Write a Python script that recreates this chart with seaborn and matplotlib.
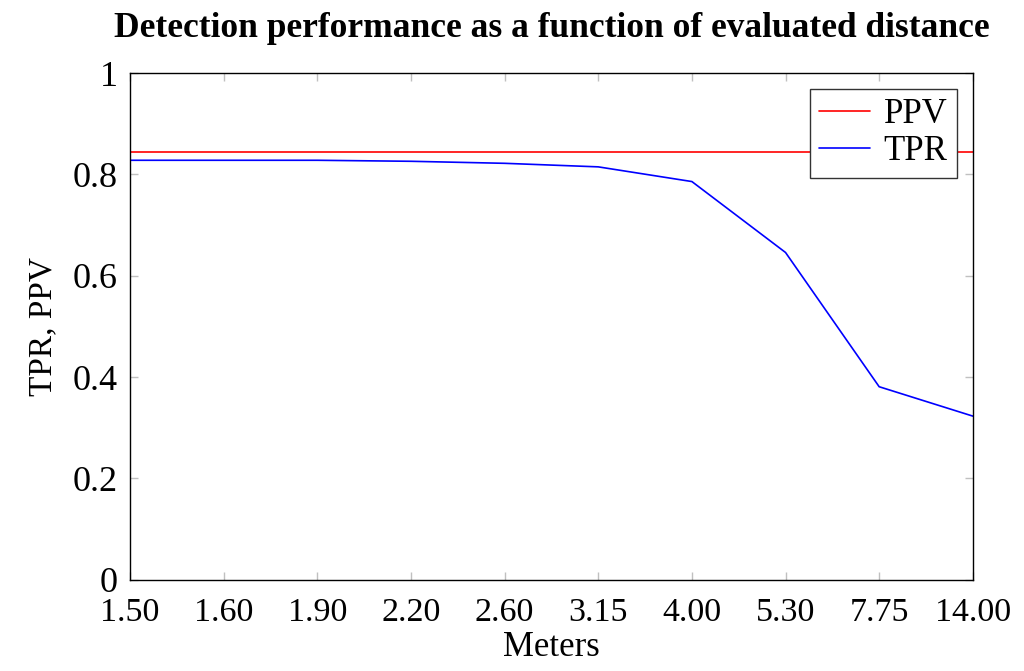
import numpy as np
import pandas as pd
import matplotlib
matplotlib.use("Agg")
import matplotlib.pyplot as plt
import seaborn as sns

# Data
meters = ["1.50", "1.60", "1.90", "2.20", "2.60", "3.15", "4.00", "5.30", "7.75", "14.00"]
tpr = [0.828, 0.828, 0.828, 0.826, 0.822, 0.815, 0.786, 0.646, 0.381, 0.323]
ppv = [0.844, 0.844, 0.844, 0.844, 0.844, 0.844, 0.844, 0.844, 0.844, 0.844]

sns.set_style("ticks")
plt.rcParams['font.family'] = ['Liberation Serif', 'DejaVu Serif']
plt.rcParams['text.color'] = 'black'
plt.rcParams['axes.labelcolor'] = 'black'
plt.rcParams['xtick.labelcolor'] = 'black'
plt.rcParams['ytick.labelcolor'] = 'black'

pos = np.arange(len(meters))
df = pd.DataFrame({"pos": np.concatenate([pos, pos]),
                   "value": ppv + tpr,
                   "series": ["PPV"] * len(ppv) + ["TPR"] * len(tpr)})

fig, ax = plt.subplots(figsize=(10.24, 6.71), dpi=100)
fig.subplots_adjust(left=0.127, right=0.950, top=0.891, bottom=0.136)

sns.lineplot(data=df, x="pos", y="value", hue="series",
             palette={"PPV": "#ff0000", "TPR": "#0000ff"},
             linewidth=1.2, ax=ax)

ax.set_xlim(0, len(meters) - 1)
ax.set_ylim(0, 1)
ax.set_xticks(pos)
ax.set_xticklabels(meters)
ax.set_yticks([0, 0.2, 0.4, 0.6, 0.8, 1])
ax.set_yticklabels(["0", "0.2", "0.4", "0.6", "0.8", "1"])

ax.tick_params(axis="both", which="both", direction="in", length=6, width=1,
               color="#c0c0c0", top=True, right=True)
ax.tick_params(axis="y", pad=9, labelsize=26)
ax.tick_params(axis="x", pad=13, labelsize=24.5)
for s in ax.spines.values():
    s.set_linewidth(1.0)
    s.set_color("black")

ax.set_xlabel("Meters", fontsize=25, labelpad=2)
ax.set_ylabel("TPR, PPV", fontsize=24, labelpad=10)
ax.set_title("Detection performance as a function of evaluated distance",
             fontsize=25.5, fontweight="bold", pad=26)

leg = ax.legend(loc="upper right", fontsize=25, frameon=True, fancybox=False,
                handlelength=1.45, borderpad=0.28, labelspacing=0.1,
                handletextpad=0.4, borderaxespad=0.45)
leg.get_frame().set_edgecolor("#333333")
leg.get_frame().set_linewidth(1.0)
leg.get_frame().set_alpha(1)
leg.set_title(None)

fig.savefig("out.png", dpi=100)
